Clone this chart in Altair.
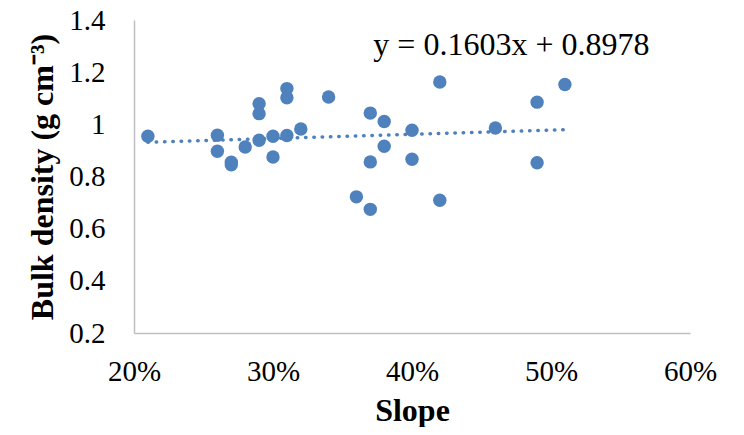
import altair as alt
import pandas as pd

slope = [0.21, 0.26, 0.26, 0.27, 0.27, 0.28, 0.29, 0.29, 0.29, 0.30, 0.30, 0.31, 0.31, 0.31, 0.32,
         0.34, 0.36, 0.37, 0.37, 0.37, 0.38, 0.38, 0.40, 0.40, 0.42, 0.42, 0.46, 0.49, 0.49, 0.51]
bulk_density = [0.954, 0.958, 0.897, 0.845, 0.855, 0.913, 1.079, 1.041, 0.939, 0.954, 0.875, 1.137, 1.102, 0.957, 0.982,
                1.105, 0.722, 1.043, 0.856, 0.674, 1.011, 0.916, 0.977, 0.866, 1.162, 0.709, 0.986, 1.085, 0.853, 1.153]

trend_slope = 0.1603
trend_intercept = 0.8978
trend_x = [0.21, 0.51]
equation_label = "y = 0.1603x + 0.8978"
equation_pos = [0.4715, 1.304]

x_ticks = [0.2, 0.3, 0.4, 0.5, 0.6]
y_ticks = [0.2, 0.4, 0.6, 0.8, 1.0, 1.2, 1.4]

FONT = "Liberation Serif"
BLUE = "#4f81bd"

df = pd.DataFrame({"slope": slope, "bd": bulk_density})
trend_df = pd.DataFrame({"slope": trend_x,
                         "bd": [trend_slope * v + trend_intercept for v in trend_x]})
eq_df = pd.DataFrame({"slope": [equation_pos[0]], "bd": [equation_pos[1]], "label": [equation_label]})

x_scale = alt.Scale(domain=[0.2, 0.6], nice=False, zero=False)
y_scale = alt.Scale(domain=[0.2, 1.4], nice=False, zero=False)

x_axis = alt.Axis(title="Slope", format=".0%", values=x_ticks, labelFlush=False,
                  labelPadding=24, titleFontSize=32, titlePadding=9)
y_axis = alt.Axis(title="Bulk density (g cm⁻³)", format="~g", values=y_ticks, labelFlush=False,
                  labelPadding=29, titleFontSize=32, titlePadding=9)

points = alt.Chart(df).mark_circle(size=180, opacity=1, color=BLUE).encode(
    x=alt.X("slope:Q", scale=x_scale, axis=x_axis),
    y=alt.Y("bd:Q", scale=y_scale, axis=y_axis),
)

trend = alt.Chart(trend_df).mark_line(color=BLUE, strokeWidth=3.5, strokeDash=[0.5, 7.8],
                                      strokeCap="round").encode(
    x=alt.X("slope:Q", scale=x_scale, axis=x_axis),
    y=alt.Y("bd:Q", scale=y_scale, axis=y_axis),
)

eq = alt.Chart(eq_df).mark_text(font=FONT, fontSize=32, color="black", align="center",
                                baseline="middle").encode(
    x=alt.X("slope:Q", scale=x_scale, axis=x_axis),
    y=alt.Y("bd:Q", scale=y_scale, axis=y_axis),
    text="label:N",
)

chart = alt.layer(trend, points, eq).properties(
    width=556, height=313,
    autosize=alt.AutoSizeParams(type="none"),
    padding={"left": 126, "top": 12, "right": 46, "bottom": 94},
).configure(background="white", font=FONT).configure_view(stroke=None).configure_axis(
    grid=False, ticks=False, domainColor="#bfbfbf", domainWidth=1.5,
    labelFont=FONT, labelFontSize=29, labelColor="black",
    titleFont=FONT, titleFontWeight="bold", titleColor="black",
)

chart.save("out.html", embed_options={"renderer": "svg", "actions": False})
